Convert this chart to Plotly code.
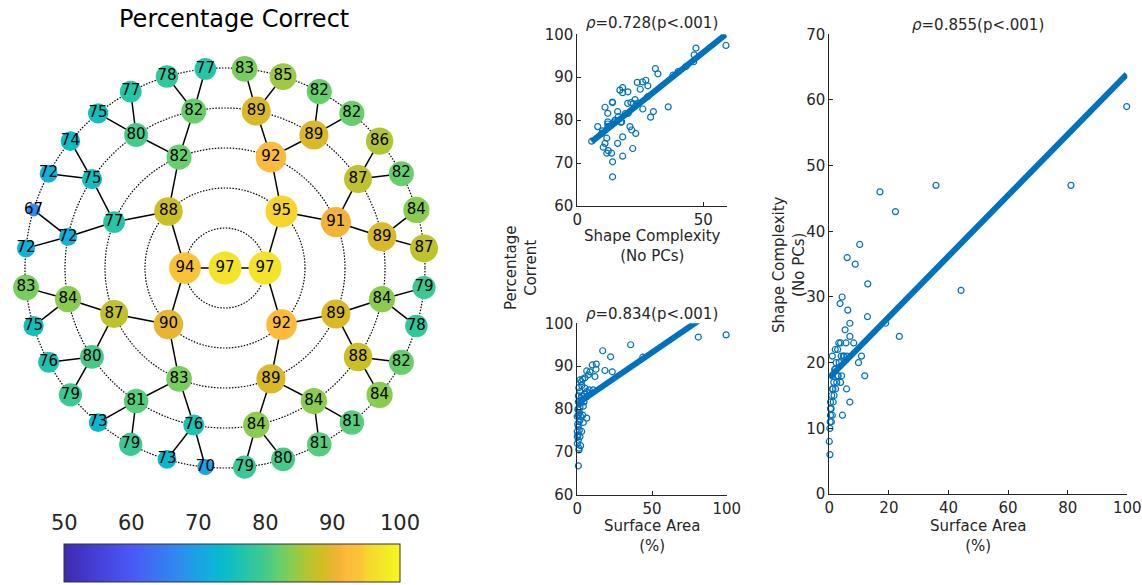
import numpy as np
import plotly.graph_objects as go

W, H = 1142, 585

# ---------------- Tree data (percentage correct), ordered by angle starting at -90 deg, counter-clockwise
root_vals = [97]
depth1_vals = [97, 94]
depth2_vals = [92, 95, 88, 90]
depth3_vals = [89, 89, 91, 92, 82, 77, 87, 83]
depth4_vals = [84, 84, 88, 84, 89, 87, 89, 89, 82, 80, 75, 72, 84, 80, 81, 76]
leaf_vals = [79, 80, 81, 81, 84, 82, 78, 79, 87, 84, 82, 86, 82, 82, 85, 83,
             77, 78, 77, 75, 74, 72, 67, 72, 83, 75, 76, 79, 73, 79, 73, 70]

# ---------------- Scatter data
# Shape complexity (No PCs) vs percentage correct
sc_top_x = [59.0, 47.1, 46.4, 46.2, 43.1, 31.0, 32.0, 23.8, 25.9, 27.2, 28.0, 25.0, 18.0, 16.9, 18.0, 20.1,
            14.0, 20.0, 21.3, 22.9, 22.2, 11.0, 12.1, 16.0, 16.3, 20.2, 26.0, 30.2, 36.1, 29.1, 8.1, 12.1,
            12.1, 12.1, 14.7, 17.6, 20.9, 21.6, 23.2, 18.0, 11.7, 16.0, 10.3, 12.3, 13.6, 11.7, 22.0, 18.0,
            14.0, 14.0, 5.7, 9.7, 11.0, 19.0, 24.0, 28.0, 38.0, 40.0, 10.0, 15.0, 13.9, 17.3, 12.7]
sc_top_y = [97.4, 96.8, 95.2, 93.6, 92.5, 92.0, 90.8, 88.8, 88.9, 89.3, 88.0, 87.2, 87.6, 87.0, 86.4, 86.6,
            84.1, 83.9, 84.1, 84.8, 83.8, 83.0, 81.6, 82.0, 80.8, 81.6, 82.6, 82.0, 83.1, 80.7, 78.5, 79.6,
            79.1, 78.5, 79.6, 79.6, 78.5, 77.7, 76.9, 76.1, 75.8, 74.6, 73.7, 72.9, 72.3, 72.3, 73.4, 71.6,
            70.3, 66.8, 75.1, 76.9, 74.6, 81.5, 84.0, 85.5, 90.5, 91.3, 77.5, 80.0, 84.2, 79.5, 78.6]

# Surface area (%) vs percentage correct
sa_mid_x = [99.6, 81.0, 35.7, 43.8, 17.0, 22.3, 18.5, 23.4, 12.7, 10.0, 12.5, 11.8, 8.5, 6.3, 7.4, 5.1,
            1.8, 3.6, 2.7, 10.7, 8.0, 6.3, 5.1, 1.8, 2.9, 0.7, 0.7, 2.2, 4.0, 6.3, 3.6, 0.7,
            0.0, 1.8, 4.0, 0.7, 1.3, 0.0, 1.8, 0.7, 2.2, 1.1, 0.7, 2.9, 4.5, 0.7, 1.8, 6.3,
            8.5, 2.2, 0.0, 0.0, 2.9, 1.3, 3.0, 1.0, 4.8, 0.4, 1.5, 0.3, 2.5, 0.5, 1.2]
sa_mid_y = [97.3, 96.8, 95.0, 92.1, 93.6, 92.2, 89.0, 88.7, 90.5, 90.3, 89.3, 87.6, 88.7, 88.9, 88.0, 87.3,
            86.8, 87.0, 86.4, 84.5, 84.5, 84.1, 84.9, 84.1, 83.1, 83.1, 81.7, 81.4, 80.7, 77.9, 78.6, 78.6,
            78.3, 77.5, 76.9, 75.9, 75.1, 74.8, 73.6, 72.8, 71.5, 70.5, 66.8, 82.1, 81.7, 79.8, 80.4, 82.9,
            83.7, 78.3, 73.6, 72.0, 74.8, 77.1, 85.5, 85.0, 83.5, 80.0, 79.2, 76.5, 82.6, 74.0, 70.9]

# Surface area (%) vs shape complexity (No PCs)
sa_right_x = [99.8, 81.1, 35.8, 17.0, 22.2, 44.2, 10.2, 6.0, 8.7, 12.9, 4.3, 3.6, 6.2, 12.8, 6.9, 18.9,
              5.3, 6.9, 23.5, 3.2, 3.8, 5.6, 8.2, 2.0, 1.0, 4.0, 4.7, 6.0, 10.8, 3.3, 9.8, 4.1,
              11.9, 1.0, 2.7, 2.1, 2.5, 3.8, 1.0, 2.1, 5.8, 1.6, 0.4, 1.3, 6.9, 0.4, 0.4, 1.0,
              4.4, 0.7, 0.2, 0.0, 0.2, 1.5, 2.3, 0.8, 1.8, 3.0, 0.6, 1.2, 2.8, 0.3, 5.0]
sa_right_y = [59, 47, 47, 46, 43, 31, 38, 36, 35, 32, 30, 29, 28, 27, 26, 26,
              25, 24, 24, 23, 23, 23, 23, 22, 21, 21, 21, 21, 21, 20, 20, 18,
              18, 18, 18, 19, 17, 17, 16, 16, 16, 15, 14, 14, 14, 13, 12, 12,
              12, 11, 10, 8, 6, 17, 20, 15, 19, 18, 13, 16, 22, 11, 21]

# Regression fits (intercept, slope)
fit_top = (72.33, 0.469)
fit_mid = (81.3, 0.238)
fit_right = (17.7, 0.463)

# Colour bar ticks
cbar_ticks = [50, 60, 70, 80, 90, 100]
cmin, cmax = 50, 100

# ---------------- Colour scale (sampled from the reference colour bar)
cscale = [
    [0.00, "#3e2aae"], [0.10, "#4540d8"], [0.20, "#4a58f6"], [0.34, "#2e8bf0"],
    [0.40, "#1ba3e4"], [0.44, "#10b2d9"], [0.46, "#07b8d0"], [0.50, "#10c0be"],
    [0.54, "#25c6a8"], [0.60, "#44ca8a"], [0.64, "#66cf6c"], [0.68, "#8acc4e"],
    [0.72, "#b1c534"], [0.76, "#ccbf24"], [0.78, "#d9b927"], [0.82, "#f3b33a"],
    [0.84, "#fdbb3c"], [0.88, "#fac336"], [0.90, "#f7d52c"], [0.94, "#f3e42a"],
    [1.00, "#f7f71a"],
]

# ---------------- Radial tree layout
levels = [root_vals, depth1_vals, depth2_vals, depth3_vals, depth4_vals, leaf_vals]
ring = 40.0
nl = len(leaf_vals)
angles = [None] * len(levels)
angles[-1] = np.array([-90 + (360 / nl) * (j + 0.5) for j in range(nl)])
for d in range(len(levels) - 2, -1, -1):
    ch = angles[d + 1]
    angles[d] = np.array([(ch[2 * i] + ch[2 * i + 1]) / 2 for i in range(len(levels[d]))])
pos = []
for d in range(len(levels)):
    r = ring * d
    th = np.radians(angles[d])
    pos.append((r * np.cos(th), r * np.sin(th)))

ex, ey = [], []
for d in range(len(levels) - 1):
    for i in range(len(levels[d])):
        for c in (2 * i, 2 * i + 1):
            ex += [pos[d][0][i], pos[d + 1][0][c], None]
            ey += [pos[d][1][i], pos[d + 1][1][c], None]

nx = np.concatenate([p[0] for p in pos])
ny = np.concatenate([p[1] for p in pos])
nv = np.concatenate([np.array(v, float) for v in levels])
nsize = np.sqrt(30.7 * (nv - 61.5))

# colour bar geometry (pixels)
cb_left, cb_right, cb_top, cb_bottom = 64, 400, 545, 583

fig = go.Figure()
fig.add_trace(go.Scatter(x=ex, y=ey, mode="lines", line=dict(color="black", width=1.5),
                         hoverinfo="skip", showlegend=False, xaxis="x", yaxis="y"))
fig.add_trace(go.Scatter(
    x=nx, y=ny, mode="markers+text", text=[str(int(v)) for v in nv],
    textposition="middle center", textfont=dict(family="DejaVu Sans", size=15, color="black"),
    marker=dict(size=nsize, color=nv, colorscale=cscale, cmin=cmin, cmax=cmax, line=dict(width=0), opacity=1,
                colorbar=dict(orientation="h", x=(cb_left + cb_right) / 2 / W, xanchor="center",
                              y=(H - cb_bottom) / H, yanchor="bottom",
                              lenmode="pixels", len=cb_right - cb_left, thicknessmode="pixels",
                              thickness=cb_bottom - cb_top,
                              outlinecolor="#333333", outlinewidth=1, xpad=0, ypad=0,
                              tickvals=cbar_ticks, ticks="", showticklabels=False)),
    showlegend=False, hoverinfo="skip", xaxis="x", yaxis="y", cliponaxis=False))

# dotted rings
shapes = []
for d in range(1, len(levels)):
    r = ring * d
    shapes.append(dict(type="circle", xref="x", yref="y", x0=-r, y0=-r, x1=r, y1=r,
                       line=dict(color="black", width=1.2, dash="1.5px,1.5px"), layer="below"))

# colour bar tick marks (inside, top edge) and labels above
ann = []
for t in cbar_ticks:
    xp = cb_left + (t - cmin) / (cmax - cmin) * (cb_right - cb_left)
    if cmin < t < cmax:
        shapes.append(dict(type="line", xref="paper", yref="paper", x0=xp / W, x1=xp / W,
                           y0=(H - cb_top) / H, y1=(H - cb_top - 4) / H,
                           line=dict(color="#333333", width=1)))
    ann.append(dict(text=str(t), x=xp / W, y=(H - 523) / H, xref="paper", yref="paper", showarrow=False,
                    xanchor="center", yanchor="middle",
                    font=dict(family="DejaVu Sans", size=21, color="#262626")))

blue = "#0072bd"


def scatter_panel(xs, ys, fit, xa, ya):
    fig.add_trace(go.Scatter(x=xs, y=ys, mode="markers",
                             marker=dict(symbol="circle-open", size=6, color=blue, line=dict(width=1.2, color=blue)),
                             showlegend=False, xaxis=xa, yaxis=ya, cliponaxis=False, hoverinfo="skip"))
    lx = np.array([min(xs), max(xs)])
    fig.add_trace(go.Scatter(x=lx, y=fit[0] + fit[1] * lx, mode="lines",
                             line=dict(color=blue, width=6), showlegend=False,
                             xaxis=xa, yaxis=ya, hoverinfo="skip"))


scatter_panel(sc_top_x, sc_top_y, fit_top, "x2", "y2")
scatter_panel(sa_mid_x, sa_mid_y, fit_mid, "x3", "y3")
scatter_panel(sa_right_x, sa_right_y, fit_right, "x4", "y4")

tf = dict(family="DejaVu Sans", size=15, color="#262626")
axc = dict(showline=True, linecolor="#262626", linewidth=1, ticks="inside", ticklen=4, tickcolor="#262626",
           showgrid=False, zeroline=False, tickfont=tf, mirror=False)


def px_x(a, b):
    return [a / W, b / W]


def px_y(top, bottom):
    return [(H - bottom) / H, (H - top) / H]


fig.update_layout(
    width=W, height=H, margin=dict(l=0, r=0, t=0, b=0, autoexpand=False),
    plot_bgcolor="white", paper_bgcolor="white",
    xaxis=dict(domain=px_x(0, 450), range=[-225, 225], visible=False, fixedrange=True),
    yaxis=dict(domain=px_y(36, 500), range=[-232, 232], visible=False, fixedrange=True),
    xaxis2=dict(domain=px_x(577.3, 726.7), range=[0, 59.3], tickvals=[0, 50], anchor="y2", **axc),
    yaxis2=dict(domain=px_y(34.3, 206), range=[60, 100], tickvals=[60, 70, 80, 90, 100], anchor="x2", **axc),
    xaxis3=dict(domain=px_x(577.3, 726.7), range=[0, 100], tickvals=[0, 50, 100], anchor="y3", **axc),
    yaxis3=dict(domain=px_y(323.3, 495), range=[60, 100], tickvals=[60, 70, 80, 90, 100], anchor="x3", **axc),
    xaxis4=dict(domain=px_x(829.3, 1127.3), range=[0, 100], tickvals=[0, 20, 40, 60, 80, 100], anchor="y4", **axc),
    yaxis4=dict(domain=px_y(34.3, 494), range=[0, 70], tickvals=[0, 10, 20, 30, 40, 50, 60, 70], anchor="x4", **axc),
    shapes=shapes,
)


def add_text(text, xpx, ypx, size=15, angle=0, yanchor="middle"):
    ann.append(dict(text=text, x=xpx / W, y=(H - ypx) / H, xref="paper", yref="paper", showarrow=False,
                    xanchor="center", yanchor=yanchor, textangle=angle,
                    font=dict(family="DejaVu Sans", size=size, color="#262626" if size < 20 else "black")))


add_text("Percentage Correct", 234, 19, size=24)
add_text("<i>ρ</i>=0.728(p&lt;.001)", 652, 23)
add_text("<i>ρ</i>=0.834(p&lt;.001)", 652, 314)
add_text("<i>ρ</i>=0.855(p&lt;.001)", 978, 25)
add_text("Shape Complexity<br>(No PCs)", 652, 225, yanchor="top")
add_text("Surface Area<br>(%)", 652, 515, yanchor="top")
add_text("Surface Area<br>(%)", 978, 515, yanchor="top")
add_text("Percentage<br>Corrent", 521, 268, angle=-90)
add_text("Shape Complexity<br>(No PCs)", 789, 265, angle=-90)
fig.update_layout(annotations=ann)

fig.write_html("out.html", config={"displayModeBar": False},
               post_script="document.body.style.margin='0';document.body.style.overflow='hidden';")
